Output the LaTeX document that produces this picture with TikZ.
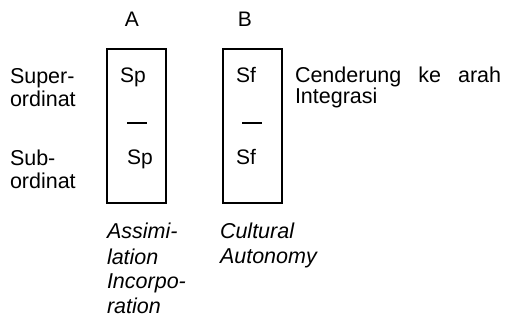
\documentclass[tikz,border=0pt]{standalone}
\usepackage{fontspec}
\setmainfont{Liberation Sans}
\begin{document}
\begin{tikzpicture}[x=1pt,y=-1pt,
  lbl/.style={inner sep=0pt, outer sep=0pt, font=\fontsize{21.5}{23.5}\selectfont, align=left, anchor=base west},
  head/.style={inner sep=0pt, font=\fontsize{21}{23}\selectfont, anchor=base},
  cell/.style={inner sep=0pt, font=\fontsize{21}{23}\selectfont, anchor=base},
  itl/.style={inner sep=0pt, outer sep=0pt, font=\fontsize{21.5}{25}\selectfont\itshape, align=left, anchor=base west},
  column/.style={draw, line width=1.4pt},
  bar/.style={line width=1.6pt}]
\useasboundingbox (0,0) rectangle (506,320);
% headings
\node[head] (hA) at (132,27) {A};
\node[head] (hB) at (245,27) {B};
% boxes
\draw[column] (107,49) rectangle (166,203);
\draw[column] (223,49) rectangle (282,203);
% left labels (base = last line)
\node[lbl] (sup) at (10,107) {Super-\\ordinat};
\node[lbl] (sub) at (10,189) {Sub-\\ordinat};
% box A contents
\node[cell] (spA1) at (133,83) {Sp};
\coordinate (dA1) at (127,123);
\coordinate (dA2) at (147,123);
\draw[bar] (dA1) -- (dA2);
\node[cell] (spA2) at (140,165) {Sp};
% box B contents
\node[cell] (sfB1) at (246,83) {Sf};
\coordinate (dB1) at (242,123);
\coordinate (dB2) at (262,123);
\draw[bar] (dB1) -- (dB2);
\node[cell] (sfB2) at (246,165) {Sf};
% right text
\node[lbl] (cend) at (295,104) {Cenderung\hspace{17pt}ke\hspace{17pt}arah\\[-2pt]Integrasi};
% italic captions
\node[itl] (capA) at (107,314) {Assimi-\\lation\\Incorpo-\\ration};
\node[itl] (capB) at (220,264) {Cultural\\Autonomy};
\end{tikzpicture}
\end{document}
